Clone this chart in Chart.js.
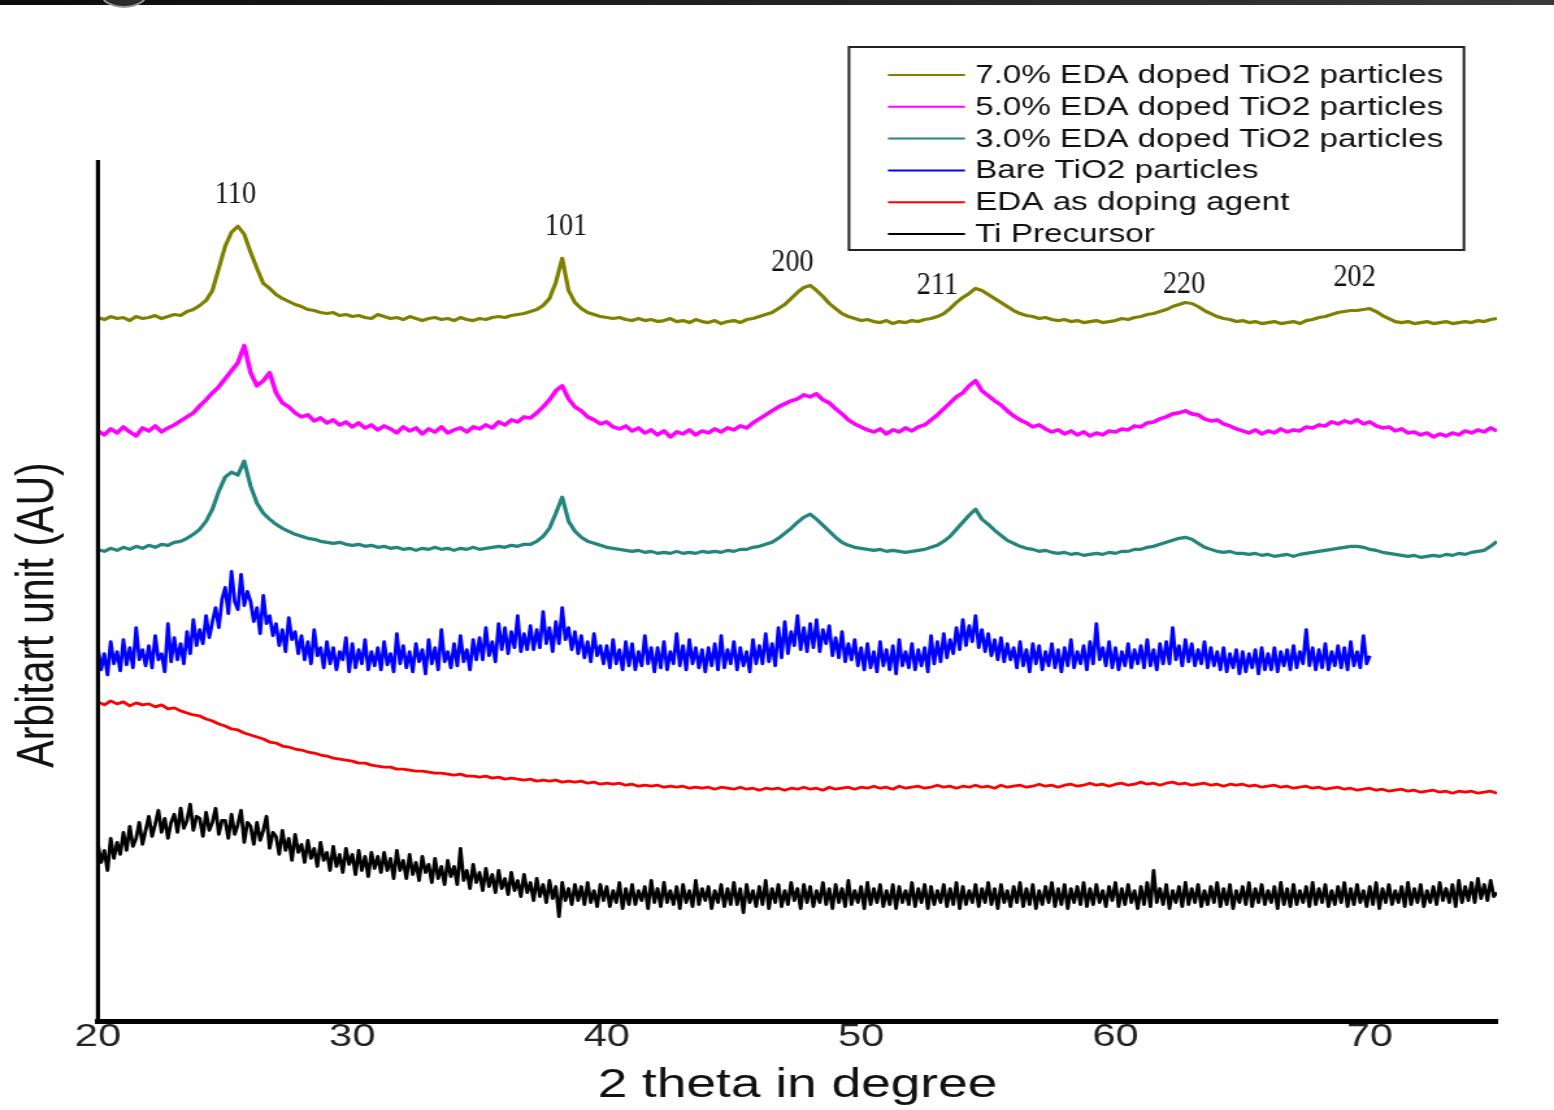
<!DOCTYPE html>
<html lang="en">
<head>
  <meta charset="UTF-8" />
  <title>XRD patterns - EDA doped TiO2</title>
  <script src="https://cdn.jsdelivr.net/npm/chart.js"></script>
  <style>
    body { margin: 0; background: #fff; overflow: hidden; width: 1554px; height: 1110px; }
    /* dark strip at the very top of the screenshot */
    #topbar { position: absolute; left: 0; top: 0; width: 1554px; height: 5px;
      background: linear-gradient(to right, #0c0c0c, #262626 60%, #3a3a3a); z-index: 2; }
    #knob { position: absolute; left: 100px; top: -22px; width: 44px; height: 26px; border-radius: 50%;
      background: #2a2a2a; border: 2px solid #999; z-index: 3; }
    /* the original figure is stretched sideways, so the chart is drawn narrow and widened */
    #wrap { position: absolute; left: 0; top: 0; width: 1196px; height: 1110px;
      transform: scaleX(1.29933); transform-origin: 0 0; }
  </style>
</head>
<body>
  <div id="topbar"></div>
  <div id="knob"></div>
  <div id="wrap">
    <canvas id="xrdChart" width="1196" height="1110" style="width:1196px;height:1110px"></canvas>
  </div>

<script>
  // 2 theta grid: first angle (degrees); smooth scans read every 0.25 deg, noisy ones every 0.125 deg
  const thetaStart = 20;
  const xTicks = [20, 30, 40, 50, 60, 70];

  const seriesNames = [
    '7.0% EDA doped TiO2 particles',
    '5.0% EDA doped TiO2 particles',
    '3.0% EDA doped TiO2 particles',
    'Bare TiO2 particles',
    'EDA as doping agent',
    'Ti Precursor'
  ];
  const seriesColors = ['#808000', '#ff00ff', '#24857f', '#0000ff', '#ff0000', '#000000'];
  const seriesStep = [0.25, 0.25, 0.25, 0.125, 0.25, 0.125];

  // intensities (arbitrary units, stacked offsets); one row = one degree
  const eda7 = [
    701, 699, 702, 700,  701, 698, 702, 700,  701, 703, 700, 702,  704, 703, 707, 709,
    713, 718, 728, 750,  772, 786, 792, 784,  766, 750, 735, 730,  724, 720, 717, 714,
    712, 709, 708, 706,  705, 706, 703, 704,  702, 703, 701, 700,  704, 702, 700, 701,
    699, 702, 700, 698,  700, 701, 699, 700,  698, 701, 699, 698,  700, 699, 701, 702,
    701, 703, 704, 705,  707, 709, 713, 720,  736, 760, 728, 716,  710, 706, 704, 702,
    701, 700, 701, 699,  698, 700, 698, 699,  697, 698, 700, 697,  698, 696, 699, 697,
    696, 698, 695, 697,  698, 696, 699, 700,  702, 704, 706, 710,  714, 720, 726, 731,
    733, 728, 722, 715,  710, 705, 702, 700,  698, 699, 697, 696,  698, 695, 697, 696,
    698, 697, 699, 700,  702, 705, 710, 716,  721, 725, 730, 728,  724, 720, 716, 712,
    708, 705, 703, 702,  700, 701, 699, 698,  699, 697, 698, 696,  697, 698, 696, 697,
    698, 700, 699, 701,  702, 704, 705, 707,  709, 712, 714, 716,  715, 712, 708, 705,
    702, 700, 699, 697,  698, 696, 697, 695,  696, 697, 695, 696,  697, 695, 698, 699,
    701, 702, 704, 706,  707, 708, 708, 709,  710, 707, 703, 700,  697, 696, 697, 695,
    696, 697, 695, 696,  697, 695, 696, 697,  696, 698, 697, 699,  700
  ];
  const eda5 = [
    588, 584, 590, 586,  592, 587, 583, 591,  588, 593, 587, 591,  594, 598, 602, 606,
    613, 619, 626, 632,  640, 648, 656, 673,  646, 633, 638, 646,  626, 616, 612, 606,
    602, 604, 598, 601,  596, 599, 594, 597,  592, 596, 591, 594,  589, 593, 590, 586,
    592, 588, 591, 585,  590, 587, 592, 586,  589, 591, 587, 592,  590, 594, 591, 597,
    594, 599, 597, 602,  601, 606, 612, 619,  628, 633, 620, 612,  608, 602, 599, 595,
    597, 592, 590, 593,  588, 591, 586, 589,  584, 588, 582, 587,  585, 589, 584, 588,
    586, 590, 587, 591,  589, 593, 591, 596,  600, 604, 608, 612,  615, 618, 620, 624,
    622, 625, 619, 616,  610, 605, 599, 595,  592, 589, 587, 590,  585, 589, 587, 591,
    588, 592, 594, 599,  604, 610, 616, 622,  626, 633, 638, 628,  623, 618, 614, 608,
    603, 599, 596, 592,  594, 590, 587, 589,  585, 588, 584, 587,  583, 586, 584, 588,
    587, 590, 589, 593,  592, 596, 597, 600,  602, 605, 606, 608,  605, 604, 600, 598,
    599, 595, 593, 590,  588, 586, 589, 585,  588, 586, 590, 587,  589, 588, 592, 591,
    594, 593, 597, 595,  598, 596, 599, 595,  597, 593, 591, 592,  588, 590, 586, 587,
    584, 586, 582, 585,  583, 586, 584, 588,  586, 589, 587, 591,  588
  ];
  const eda3 = [
    470, 468, 471, 469,  472, 470, 473, 471,  474, 472, 475, 474,  477, 478, 481, 485,
    490, 498, 510, 528,  542, 547, 544, 558,  533, 516, 506, 500,  495, 491, 488, 485,
    483, 481, 480, 478,  477, 476, 477, 475,  474, 475, 473, 474,  472, 473, 471, 472,
    470, 471, 469, 471,  470, 472, 470, 471,  469, 471, 470, 472,  470, 471, 472, 473,
    472, 474, 473, 475,  475, 478, 483, 491,  506, 522, 498, 488,  482, 478, 476, 474,
    472, 471, 470, 469,  468, 469, 467, 468,  466, 467, 466, 468,  466, 467, 466, 468,
    467, 468, 467, 469,  468, 470, 470, 472,  473, 475, 477, 481,  486, 491, 497, 502,
    505, 500, 494, 488,  482, 477, 474, 472,  471, 470, 469, 470,  468, 469, 468, 467,
    468, 469, 470, 472,  474, 478, 483, 490,  497, 504, 510, 500,  495, 489, 484, 479,
    476, 473, 471, 470,  468, 469, 467, 466,  467, 465, 466, 464,  465, 466, 465, 467,
    466, 468, 468, 470,  470, 472, 473, 475,  477, 479, 481, 482,  480, 476, 472, 470,
    468, 467, 468, 466,  466, 465, 466, 464,  465, 463, 464, 465,  463, 465, 466, 467,
    468, 469, 470, 471,  472, 473, 473, 472,  470, 469, 467, 466,  465, 464, 463, 464,
    462, 463, 464, 463,  465, 464, 466, 465,  467, 468, 469, 473,  478
  ];
  // bare TiO2 was only scanned up to 70 degrees (8 readings per degree)
  const bareTiO2 = [
    372, 350, 366, 345, 378, 356, 368, 349,   380, 355, 372, 352, 392, 360, 370, 354,
    374, 352, 384, 360, 366, 348, 396, 358,   382, 360, 376, 356, 388, 366, 400, 374,
    390, 376, 404, 382, 398, 412, 392, 420,   432, 406, 448, 418, 410, 445, 414, 428,
    418, 398, 412, 386, 424, 396, 404, 384,   396, 374, 390, 368, 402, 380, 388, 366,
    384, 360, 378, 356, 390, 364, 372, 352,   378, 356, 372, 350, 368, 360, 382, 348,
    376, 352, 370, 356, 380, 350, 368, 354,   372, 350, 378, 355, 366, 348, 386, 356,
    374, 352, 368, 348, 376, 358, 370, 346,   380, 356, 372, 350, 390, 358, 368, 352,
    376, 354, 384, 358, 370, 350, 380, 360,   382, 360, 392, 364, 378, 358, 396, 370,
    392, 366, 388, 372, 404, 368, 386, 370,   394, 370, 390, 372, 408, 376, 392, 368,
    398, 376, 412, 380, 392, 370, 388, 366,   384, 362, 378, 358, 386, 364, 374, 356,
    374, 352, 380, 356, 370, 350, 378, 354,   376, 350, 368, 354, 384, 356, 372, 348,
    372, 352, 378, 350, 368, 356, 386, 354,   374, 350, 380, 356, 372, 352, 370, 348,
    372, 354, 376, 350, 384, 352, 370, 356,   378, 350, 372, 354, 368, 348, 380, 356,
    374, 356, 386, 358, 376, 354, 392, 362,   398, 366, 388, 374, 404, 370, 392, 368,
    396, 372, 400, 368, 390, 376, 394, 364,   382, 362, 388, 358, 376, 360, 380, 354,
    372, 350, 376, 352, 368, 348, 378, 354,   370, 350, 374, 346, 380, 354, 368, 352,
    376, 350, 370, 354, 372, 348, 384, 356,   378, 358, 386, 362, 380, 366, 392, 370,
    400, 374, 394, 378, 404, 372, 390, 368,   386, 364, 380, 360, 382, 358, 376, 360,
    372, 352, 378, 354, 370, 348, 376, 356,   374, 350, 368, 354, 376, 352, 370, 348,
    372, 354, 380, 352, 368, 356, 374, 350,   378, 356, 396, 360, 372, 354, 378, 352,
    372, 350, 368, 354, 376, 352, 370, 356,   374, 352, 380, 354, 370, 350, 376, 356,
    378, 356, 392, 360, 374, 354, 380, 358,   376, 354, 370, 356, 378, 352, 372, 354,
    368, 350, 372, 348, 366, 352, 370, 346,   368, 348, 366, 352, 370, 346, 372, 350,
    366, 350, 372, 348, 368, 354, 370, 350,   374, 352, 368, 356, 390, 354, 372, 350,
    370, 352, 376, 350, 368, 354, 374, 352,   372, 350, 378, 354, 368, 352, 384, 356,
    364
  ];
  const edaAgent = [
    318, 315, 319, 316,  318, 314, 317, 315,  316, 313, 315, 311,  312, 309, 307, 305,
    304, 301, 299, 296,  294, 291, 290, 287,  285, 283, 281, 278,  277, 274, 273, 271,
    270, 268, 267, 265,  264, 262, 261, 260,  259, 257, 257, 255,  254, 253, 253, 251,
    251, 250, 249, 249,  248, 247, 247, 246,  245, 246, 244, 244,  243, 244, 242, 243,
    241, 242, 241, 240,  241, 239, 240, 239,  240, 238, 239, 238,  239, 237, 238, 236,
    237, 236, 237, 235,  236, 234, 235, 234,  235, 233, 234, 233,  234, 232, 233, 232,
    233, 231, 233, 232,  231, 233, 231, 232,  230, 232, 231, 232,  230, 232, 231, 233,
    231, 232, 230, 233,  231, 232, 233, 231,  233, 232, 234, 232,  233, 231, 234, 232,
    233, 234, 232, 233,  235, 233, 234, 232,  234, 233, 235, 233,  234, 232, 235, 233,
    234, 235, 233, 234,  236, 234, 235, 233,  235, 236, 234, 235,  237, 235, 236, 234,
    236, 237, 235, 236,  238, 236, 237, 235,  237, 238, 236, 237,  235, 236, 237, 235,
    236, 234, 236, 235,  236, 234, 235, 233,  234, 235, 233, 234,  232, 233, 234, 232,
    233, 231, 232, 233,  231, 232, 230, 231,  232, 230, 231, 229,  230, 231, 229, 230,
    228, 229, 230, 228,  229, 227, 229, 228,  229, 227, 228, 229,  227
  ];
  // Ti precursor (8 readings per degree)
  const tiPrecursor = [
    176, 158, 170, 150, 182, 162, 178, 166,   188, 170, 194, 174, 182, 198, 176, 190,
    204, 184, 196, 210, 188, 202, 182, 198,   206, 188, 212, 192, 200, 216, 190, 204,
    202, 184, 208, 190, 198, 212, 186, 200,   200, 182, 206, 186, 196, 210, 178, 198,
    194, 176, 198, 180, 190, 204, 172, 188,   184, 166, 190, 170, 182, 160, 186, 168,
    176, 158, 180, 162, 172, 154, 178, 160,   168, 150, 174, 154, 166, 148, 172, 156,
    166, 146, 170, 150, 164, 144, 168, 152,   164, 148, 168, 150, 162, 142, 170, 150,
    160, 142, 166, 146, 158, 140, 164, 148,   156, 138, 162, 142, 154, 136, 160, 144,
    154, 136, 172, 140, 150, 132, 156, 138,   148, 130, 152, 134, 146, 128, 150, 132,
    142, 126, 148, 130, 140, 124, 146, 128,   138, 120, 142, 124, 136, 118, 140, 122,
    134, 104, 138, 120, 132, 116, 136, 120,   134, 116, 138, 118, 130, 114, 136, 120,
    134, 114, 130, 118, 138, 112, 132, 116,   136, 116, 130, 120, 134, 112, 140, 118,
    132, 114, 138, 118, 130, 116, 134, 112,   136, 118, 130, 114, 140, 116, 132, 120,
    134, 112, 130, 118, 136, 114, 132, 116,   138, 116, 132, 108, 136, 118, 130, 114,
    134, 116, 140, 112, 132, 118, 136, 114,   130, 116, 138, 120, 132, 112, 136, 118,
    134, 114, 130, 118, 138, 116, 132, 112,   136, 118, 132, 114, 140, 116, 130, 118,
    134, 112, 138, 116, 132, 118, 136, 114,   130, 116, 136, 112, 134, 118, 130, 116,
    138, 114, 132, 118, 136, 112, 134, 116,   130, 118, 136, 114, 132, 116, 138, 112,
    134, 116, 130, 118, 136, 114, 132, 118,   138, 116, 132, 112, 136, 118, 130, 114,
    134, 118, 138, 114, 132, 116, 136, 112,   130, 116, 134, 118, 138, 114, 132, 116,
    136, 112, 132, 118, 134, 116, 138, 114,   132, 116, 136, 118, 130, 114, 134, 120,
    138, 114, 132, 116, 136, 118, 130, 112,   134, 116, 138, 114, 150, 118, 132, 116,
    136, 112, 130, 118, 134, 114, 138, 116,   132, 118, 136, 114, 130, 116, 134, 118,
    138, 114, 132, 116, 136, 112, 130, 118,   134, 116, 138, 114, 132, 118, 136, 116,
    130, 118, 134, 112, 138, 116, 132, 114,   136, 116, 130, 118, 134, 114, 138, 116,
    132, 118, 136, 114, 130, 116, 134, 118,   138, 114, 132, 116, 136, 118, 130, 114,
    134, 116, 138, 112, 132, 118, 136, 116,   130, 118, 134, 114, 138, 116, 132, 118,
    136, 114, 130, 118, 134, 116, 138, 120,   132, 118, 136, 114, 140, 118, 134, 120,
    138, 118, 142, 122, 136, 120, 140, 124,
    128
  ];

  // Miller indices written above the reflections (2 theta, label height in AU)
  const peakHkl = ['110', '101', '200', '211', '220', '202'];
  const peakTheta = [25.4, 38.4, 47.3, 53.0, 62.7, 69.4];
  const peakLabelY = [824, 792, 756, 733, 734, 741];

  const allSeries = [eda7, eda5, eda3, bareTiO2, edaAgent, tiPrecursor];
  const lineWidths = [3.2, 3.6, 3.2, 2.8, 2.8, 2.8];

  function toPoints(values, step) {
    return values.map((v, i) => ({ x: thetaStart + i * step, y: v }));
  }

  const sansFont = '"Liberation Sans", Arial, sans-serif';

  const decorPlugin = {
    id: 'decor',
    afterDraw(chart) {
      const ctx = chart.ctx;
      const area = chart.chartArea;
      const xs = chart.scales.x;
      const ys = chart.scales.y;

      // y axis line
      ctx.save();
      ctx.fillStyle = '#000';
      ctx.fillRect(area.left - 1.6, area.top, 3.2, area.bottom - area.top + 2);

      // y axis title
      ctx.translate(40.8, 615);
      ctx.rotate(-Math.PI / 2);
      ctx.font = '41px ' + sansFont;
      ctx.fillStyle = '#111';
      ctx.textAlign = 'center';
      ctx.textBaseline = 'alphabetic';
      ctx.fillText('Arbitart unit (AU)', 0, 0);
      ctx.restore();

      // peak labels (serif, narrow)
      peakHkl.forEach((txt, i) => {
        const px = xs.getPixelForValue(peakTheta[i]);
        const py = ys.getPixelForValue(peakLabelY[i]);
        ctx.save();
        ctx.translate(px, py);
        ctx.scale(0.68, 1);
        ctx.font = '32px "Liberation Serif", "Times New Roman", serif';
        ctx.fillStyle = '#111';
        ctx.textAlign = 'center';
        ctx.textBaseline = 'middle';
        ctx.fillText(txt, 0, 0);
        ctx.restore();
      });

      // legend box
      const boxL = 653.4, boxT = 47, boxR = 1126.7, boxB = 250;
      ctx.save();
      ctx.strokeStyle = '#222';
      ctx.lineWidth = 2;
      ctx.strokeRect(boxL, boxT, boxR - boxL, boxB - boxT);
      ctx.font = '25.6px ' + sansFont;
      ctx.textAlign = 'left';
      ctx.textBaseline = 'middle';
      chart.data.datasets.forEach((ds, i) => {
        const y = 75 + i * 31.8;
        ctx.strokeStyle = ds.borderColor;
        ctx.lineWidth = 2;
        ctx.beginPath();
        ctx.moveTo(683.4, y);
        ctx.lineTo(742.7, y);
        ctx.stroke();
        ctx.fillStyle = '#111';
        ctx.fillText(ds.label, 750.4, y + 1);
      });
      ctx.restore();
    }
  };

  const ctx = document.getElementById('xrdChart').getContext('2d');
  new Chart(ctx, {
    type: 'line',
    data: {
      datasets: allSeries.map((vals, i) => ({
        label: seriesNames[i],
        data: toPoints(vals, seriesStep[i]),
        borderColor: seriesColors[i],
        backgroundColor: seriesColors[i],
        borderWidth: lineWidths[i],
        borderJoinStyle: 'round',
        pointRadius: 0,
        tension: 0,
        fill: false
      }))
    },
    options: {
      responsive: false,
      animation: false,
      devicePixelRatio: 1,
      layout: { padding: { left: 75.4, right: 43.9, top: 160, bottom: 0 } },
      plugins: {
        legend: { display: false },
        tooltip: { enabled: false }
      },
      scales: {
        x: {
          type: 'linear',
          min: 20,
          max: 75,
          afterBuildTicks: (scale) => { scale.ticks = xTicks.map(v => ({ value: v })); },
          grid: { display: false, drawTicks: false },
          border: { display: true, color: '#000', width: 5 },
          ticks: {
            autoSkip: false,
            maxRotation: 0,
            padding: -3,
            color: '#222',
            font: { family: sansFont, size: 32 }
          },
          title: {
            display: true,
            text: '2 theta in degree',
            color: '#111',
            font: { family: sansFont, size: 41 },
            padding: { top: 7.4, bottom: 0 }
          }
        },
        y: {
          display: false,
          min: 0,
          max: 858
        }
      }
    },
    plugins: [decorPlugin]
  });
</script>
</body>
</html>
